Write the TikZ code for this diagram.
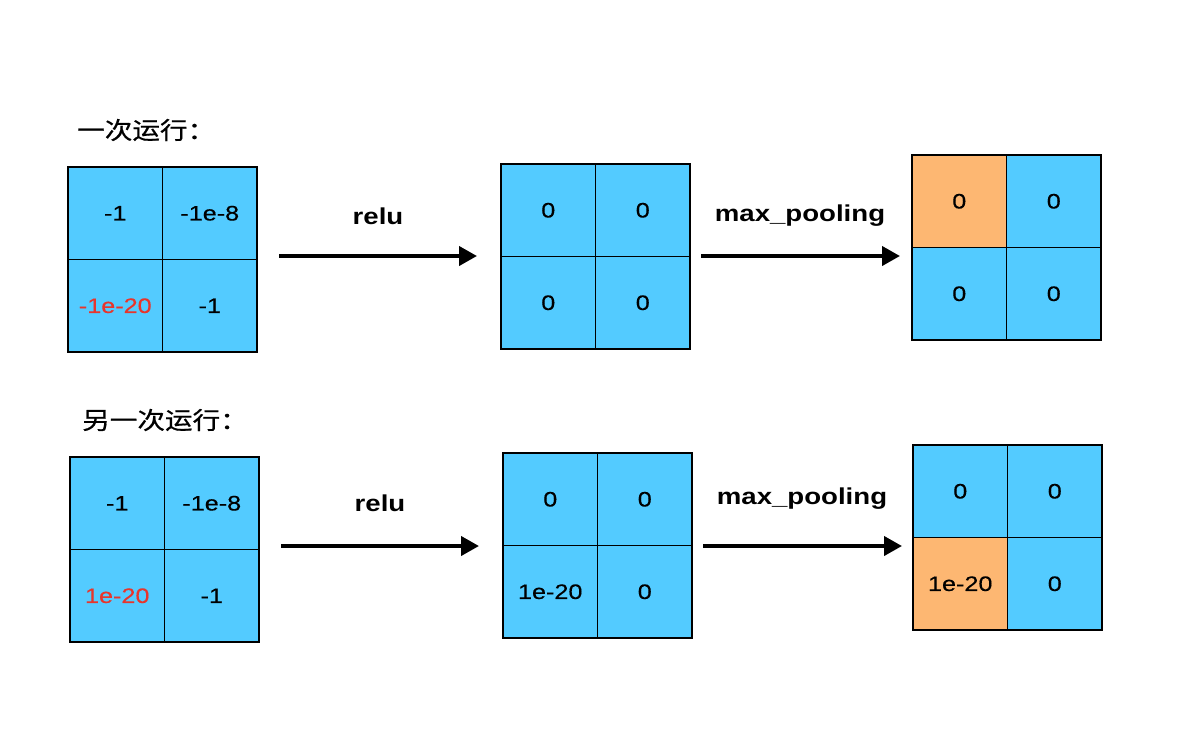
\documentclass[tikz,border=0pt]{standalone}
\usepackage{fontspec}
\setmainfont{Liberation Sans}
\newfontfamily\cjk[FakeStretch=1.15,FakeBold=0.6]{Noto Sans CJK SC}
\newfontfamily\cellfont[FakeStretch=1.2,FakeBold=0.3]{Liberation Sans}
\newfontfamily\labelfont[FakeStretch=1.2]{Liberation Sans}
\usetikzlibrary{arrows.meta}
\definecolor{cellblue}{HTML}{53CBFF}
\definecolor{cellorange}{HTML}{FDB772}
\definecolor{textred}{HTML}{E8352C}
\begin{document}
\begin{tikzpicture}[x=1pt,y=-1pt,
  cell/.style={draw=black, line width=1.1pt, fill=cellblue, minimum width=94.5pt,
    minimum height=92.5pt, inner sep=0pt, outer sep=0pt, anchor=north west,
    font=\cellfont\fontsize{21}{25}\selectfont, text=black},
  hot/.style={fill=cellorange},
  neg/.style={text=textred},
  oplabel/.style={font=\labelfont\bfseries\fontsize{23}{27}\selectfont, anchor=base, inner sep=0pt},
  flow/.style={line width=4pt, -{Triangle[length=18pt,width=19pt]}},
  title/.style={font=\cjk\fontsize{24}{28}\selectfont, anchor=west, inner sep=0pt}]
\useasboundingbox (0,0) rectangle (1204,740);

% titles
\node[title] (t1) at (77,130) {一次运行：};
\node[title] (t2) at (82,420) {另一次运行：};

% ---- first run ----
\node[cell] (g1a) at (68,167) {-1};
\node[cell] (g1b) at (g1a.north east) {-1e-8};
\node[cell,neg] (g1c) at (g1a.south west) {-1e-20};
\node[cell] (g1d) at (g1a.south east) {-1};

\node[cell] (g2a) at (501,164) {0};
\node[cell] (g2b) at (g2a.north east) {0};
\node[cell] (g2c) at (g2a.south west) {0};
\node[cell] (g2d) at (g2a.south east) {0};

\node[cell,hot] (g3a) at (912,155) {0};
\node[cell] (g3b) at (g3a.north east) {0};
\node[cell] (g3c) at (g3a.south west) {0};
\node[cell] (g3d) at (g3a.south east) {0};

\coordinate (a1s) at (279,256);
\coordinate (a1e) at (477,256);
\coordinate (a2s) at (701,256);
\coordinate (a2e) at (900,256);
\draw[flow] (a1s) -- (a1e);
\draw[flow] (a2s) -- (a2e);
\node[oplabel] (l1) at (378,224) {relu};
\node[oplabel] (l2) at (800,221.5) {max\_pooling};

% ---- second run ----
\node[cell] (g4a) at (70,457) {-1};
\node[cell] (g4b) at (g4a.north east) {-1e-8};
\node[cell,neg] (g4c) at (g4a.south west) {1e-20};
\node[cell] (g4d) at (g4a.south east) {-1};

\node[cell] (g5a) at (503,453) {0};
\node[cell] (g5b) at (g5a.north east) {0};
\node[cell] (g5c) at (g5a.south west) {1e-20};
\node[cell] (g5d) at (g5a.south east) {0};

\node[cell] (g6a) at (913,445) {0};
\node[cell] (g6b) at (g6a.north east) {0};
\node[cell,hot] (g6c) at (g6a.south west) {1e-20};
\node[cell] (g6d) at (g6a.south east) {0};

\coordinate (a3s) at (281,546);
\coordinate (a3e) at (479,546);
\coordinate (a4s) at (703,546);
\coordinate (a4e) at (902,546);
\draw[flow] (a3s) -- (a3e);
\draw[flow] (a4s) -- (a4e);
\node[oplabel] (l3) at (380,511) {relu};
\node[oplabel] (l4) at (802,504) {max\_pooling};
\end{tikzpicture}
\end{document}
